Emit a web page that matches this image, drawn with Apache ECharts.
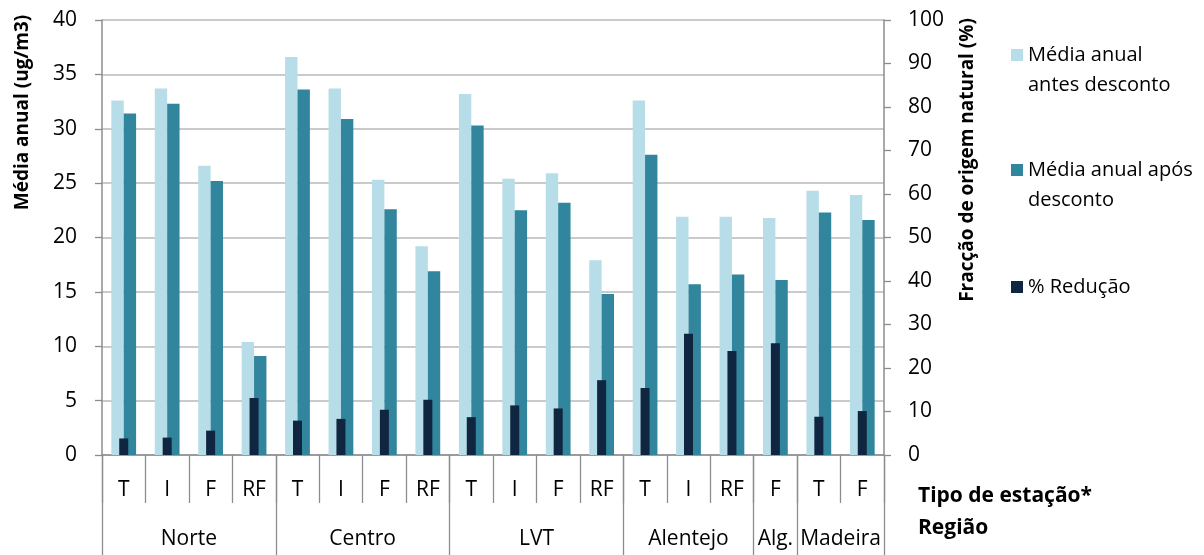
<!DOCTYPE html>
<html>
<head>
<meta charset="utf-8">
<script src="https://cdn.jsdelivr.net/npm/echarts@6/dist/echarts.min.js"></script>
<style>
  html, body { margin: 0; padding: 0; background: #fff; }
  #chart { width: 1204px; height: 555px; }
</style>
</head>
<body>
<div id="chart"></div>
<script>
// Station type of each column, left to right
const stationTypes = ['T', 'I', 'F', 'RF', 'T', 'I', 'F', 'RF', 'T', 'I', 'F', 'RF', 'T', 'I', 'RF', 'F', 'T', 'F'];
// Regions and how many station types each one groups
const regionNames = ['Norte', 'Centro', 'LVT', 'Alentejo', 'Alg.', 'Madeira'];
const regionSizes = [4, 4, 4, 3, 1, 2];

// Annual means (ug/m3) before and after discounting natural sources
const mediaAntes = [32.6, 33.7, 26.6, 10.4, 36.6, 33.7, 25.3, 19.2, 33.2, 25.4, 25.9, 17.9, 32.6, 21.9, 21.9, 21.8, 24.3, 23.9];
const mediaApos = [31.4, 32.3, 25.2, 9.1, 33.6, 30.9, 22.6, 16.9, 30.3, 22.5, 23.2, 14.8, 27.6, 15.7, 16.6, 16.1, 22.3, 21.6];
// Reduction (%), right axis
const reducao = [3.8, 4.0, 5.6, 13.1, 7.9, 8.3, 10.4, 12.7, 8.7, 11.4, 10.7, 17.2, 15.4, 27.9, 23.9, 25.7, 8.8, 10.1];

const leftTicks = { min: 0, max: 40, interval: 5 };
const rightTicks = { min: 0, max: 100, interval: 10 };

// Region axis: points on half-column steps, so group edges and group centres both land on points
const regionPoints = new Array(stationTypes.length * 2 + 1).fill('');
const regionEdges = [0];
let acc = 0;
regionSizes.forEach((n, i) => {
  regionPoints[acc + n] = regionNames[i]; // centre of the group, in half-steps
  acc += 2 * n;
  regionEdges.push(acc);
});

const FONT = 'Open Sans';
const AXIS_GREY = '#8c8c8c';
const C_ANTES = '#B7DDE8', C_APOS = '#31859C', C_RED = '#10253F';

// Square pinned to the top of a taller icon box, so it sits beside the first text line
const topSquare = 'path://M0,0H12V12H0Z M0,42H0.01V42.01H0Z';

const legendBase = {
  orient: 'vertical', left: 1011, padding: 0, selectedMode: false,
  itemWidth: 12, itemHeight: 42,
  textStyle: { fontFamily: FONT, fontSize: 20, color: '#000', lineHeight: 30 }
};

const boldTitle = { fontFamily: FONT, fontSize: 21, fontWeight: 'bold', color: '#000' };

const chart = echarts.init(document.getElementById('chart'), null, { renderer: 'canvas' });
chart.setOption({
  animation: false,
  textStyle: { fontFamily: FONT },
  grid: { left: 102, right: 320, top: 20, bottom: 100, containLabel: false },
  title: [
    { text: 'Tipo de estação*', left: 918, top: 486, padding: 0, textStyle: boldTitle },
    { text: 'Região', left: 918, top: 518, padding: 0, textStyle: boldTitle }
  ],
  legend: [
    Object.assign({}, legendBase, { top: 40, data: [{ name: 'Média anual antes desconto', icon: topSquare }],
      formatter: () => 'Média anual\nantes desconto' }),
    Object.assign({}, legendBase, { top: 155, data: [{ name: 'Média anual após desconto', icon: topSquare }],
      formatter: () => 'Média anual após\ndesconto' }),
    Object.assign({}, legendBase, { top: 272, itemHeight: 12, data: [{ name: '% Redução', icon: 'rect' }] })
  ],
  xAxis: [
    {
      type: 'category', data: stationTypes, position: 'bottom',
      axisLine: { show: true, lineStyle: { color: AXIS_GREY, width: 1.5 } },
      axisTick: { show: true, interval: 0, length: 48, lineStyle: { color: AXIS_GREY, width: 1.3 } },
      axisLabel: { interval: 0, margin: 25, fontSize: 21, color: '#000' }
    },
    { type: 'category', data: stationTypes, show: false },
    {
      type: 'category', data: regionPoints, boundaryGap: false, position: 'bottom',
      axisLine: { show: false },
      axisTick: { show: true, length: 100, interval: (idx) => regionEdges.includes(idx),
        lineStyle: { color: AXIS_GREY, width: 1.3 } },
      axisLabel: { interval: 0, margin: 74, fontSize: 21, color: '#000' },
      splitLine: { show: false }
    }
  ],
  yAxis: [
    {
      type: 'value', position: 'left', min: leftTicks.min, max: leftTicks.max, interval: leftTicks.interval,
      axisLine: { show: true, lineStyle: { color: AXIS_GREY, width: 1.5 } },
      axisTick: { show: true, length: 7, lineStyle: { color: AXIS_GREY, width: 1.3 } },
      axisLabel: { margin: 25, fontSize: 21, color: '#000' },
      splitLine: { show: true, lineStyle: { color: '#b8b8b8', width: 1.5 } },
      name: 'Média anual (ug/m3)', nameLocation: 'middle', nameGap: 70,
      nameTextStyle: { fontSize: 19, fontWeight: 'bold', color: '#000', padding: [0, 0, 0, 250] }
    },
    {
      type: 'value', position: 'right', min: rightTicks.min, max: rightTicks.max, interval: rightTicks.interval,
      axisLine: { show: true, lineStyle: { color: AXIS_GREY, width: 1.5 } },
      axisTick: { show: true, length: 7, lineStyle: { color: AXIS_GREY, width: 1.3 } },
      axisLabel: { margin: 24, fontSize: 21, color: '#000' },
      splitLine: { show: false },
      name: 'Fracção de origem natural (%)', nameLocation: 'middle', nameGap: 74,
      nameTextStyle: { fontSize: 19, fontWeight: 'bold', color: '#000', padding: [0, 0, 0, 155] }
    }
  ],
  series: [
    { name: 'Média anual antes desconto', type: 'bar', xAxisIndex: 0, yAxisIndex: 0, data: mediaAntes,
      itemStyle: { color: C_ANTES }, barGap: '0%', barCategoryGap: '43%' },
    { name: 'Média anual após desconto', type: 'bar', xAxisIndex: 0, yAxisIndex: 0, data: mediaApos,
      itemStyle: { color: C_APOS }, barGap: '0%', barCategoryGap: '43%' },
    { name: '% Redução', type: 'bar', xAxisIndex: 1, yAxisIndex: 1, data: reducao,
      itemStyle: { color: C_RED }, barWidth: 9, z: 3 }
  ]
});
</script>
</body>
</html>
